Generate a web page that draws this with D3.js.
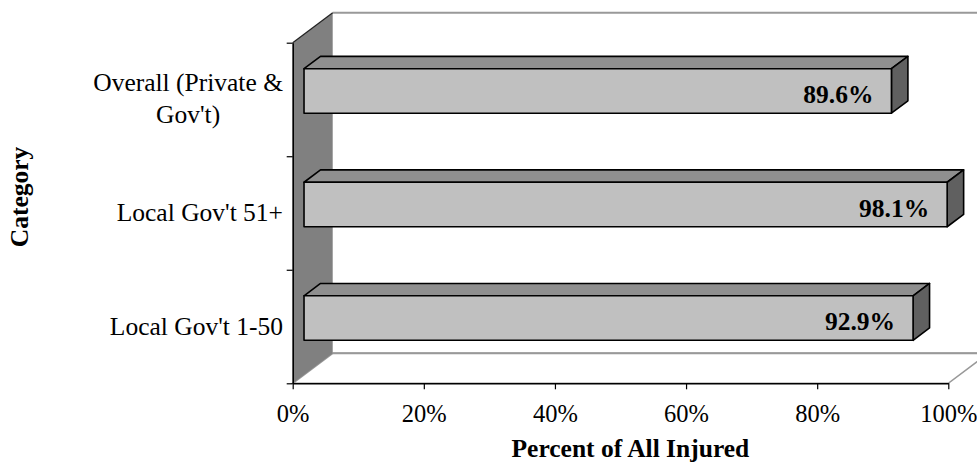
<!DOCTYPE html>
<html>
<head>
<meta charset="utf-8">
<script src="https://cdn.jsdelivr.net/npm/d3@7"></script>
<style>
  html, body { margin: 0; padding: 0; background: #fff; }
  svg { display: block; font-family: "Liberation Serif", "Times New Roman", serif; }
</style>
</head>
<body>
<svg id="chart" width="977" height="462"></svg>
<script>
// Share of all injured workers, by category
const categories = ["Overall (Private & Gov't)", "Local Gov't 51+", "Local Gov't 1-50"];
const categoryLines = [["Overall (Private &", "Gov't)"], ["Local Gov't 51+"], ["Local Gov't 1-50"]];
const values = [0.896, 0.981, 0.929];
const valueLabels = ["89.6%", "98.1%", "92.9%"];
const xTicks = [0, 0.2, 0.4, 0.6, 0.8, 1.0];
const xTitle = "Percent of All Injured";
const yTitle = "Category";

const svg = d3.select("#chart");

// Plot frame (front plane) and oblique depth offset
const plotL = 292.7, plotR = 948.3, plotT = 42.7, plotB = 383.3;
const DX = 40, DY = -30;
// Bars sit between these fractions of the depth
const f0 = 0.283, f1 = 0.695;

const x = d3.scaleLinear().domain([0, 1]).range([plotL, plotR]);
const y = d3.scaleBand().domain(categories).range([plotT, plotB]);
const barH = y.bandwidth() * 0.392;

const wallGray = "#999999";

// Back wall
svg.append("rect")
  .attr("x", plotL + DX).attr("y", plotT + DY)
  .attr("width", plotR - plotL).attr("height", plotB - plotT)
  .attr("fill", "#fff");
svg.append("line")
  .attr("x1", plotL + DX).attr("x2", plotR + DX)
  .attr("y1", plotT + DY).attr("y2", plotT + DY)
  .attr("stroke", wallGray).attr("stroke-width", 2);

// Floor
svg.append("polygon")
  .attr("points", [[plotL, plotB], [plotR, plotB], [plotR + DX, plotB + DY], [plotL + DX, plotB + DY]].join(" "))
  .attr("fill", "#fff").attr("stroke", wallGray).attr("stroke-width", 1.6);
svg.append("line")
  .attr("x1", plotL + DX).attr("x2", plotR + DX)
  .attr("y1", plotB + DY).attr("y2", plotB + DY)
  .attr("stroke", wallGray).attr("stroke-width", 2);

// Side wall
svg.append("polygon")
  .attr("points", [[plotL, plotT], [plotL + DX, plotT + DY], [plotL + DX, plotB + DY], [plotL, plotB]].join(" "))
  .attr("fill", "#808080");
svg.append("line")
  .attr("x1", plotL).attr("y1", plotT).attr("x2", plotL + DX).attr("y2", plotT + DY)
  .attr("stroke", "#222").attr("stroke-width", 1.2);

// Bars
const bars = svg.append("g").selectAll("g").data(categories).join("g");
bars.each(function(c, i) {
  const g = d3.select(this);
  const bx = DX * f0, by = DY * f0;
  const dbx = DX * (f1 - f0), dby = DY * (f1 - f0);
  const x0 = x(0) + bx, x1 = x(values[i]) + bx;
  const yc = y(c) + y.bandwidth() / 2 + by;
  const yt = yc - barH / 2, yb = yc + barH / 2;
  const face = (pts, fill) => g.append("polygon")
    .attr("points", pts.join(" ")).attr("fill", fill)
    .attr("stroke", "#000").attr("stroke-width", 1.6).attr("stroke-linejoin", "round");
  face([[x0, yt], [x0 + dbx, yt + dby], [x1 + dbx, yt + dby], [x1, yt]], "#8f8f8f");
  face([[x1, yt], [x1 + dbx, yt + dby], [x1 + dbx, yb + dby], [x1, yb]], "#606060");
  face([[x0, yt], [x1, yt], [x1, yb], [x0, yb]], "#c0c0c0");
  g.append("text")
    .attr("x", x1 - 18).attr("y", yc + 12)
    .attr("text-anchor", "end")
    .attr("font-size", 25.5).attr("font-weight", "bold")
    .attr("fill", "#000")
    .text(valueLabels[i]);
});

// Value axis
const xAxis = svg.append("g")
  .attr("transform", `translate(0,${plotB})`)
  .call(d3.axisBottom(x).tickValues(xTicks).tickFormat(d3.format(".0%")).tickSizeInner(6).tickSizeOuter(0));
xAxis.select(".domain").attr("stroke", "#000").attr("stroke-width", 1.6);
xAxis.selectAll(".tick line").attr("stroke", "#000").attr("stroke-width", 1.2);
xAxis.selectAll(".tick text")
  .attr("y", 38.4).attr("dy", 0)
  .attr("font-size", 24.5).attr("font-family", "Liberation Serif, Times New Roman, serif")
  .attr("fill", "#000");

// Category axis: ticks at band boundaries
const yEdge = d3.scaleLinear().domain([0, categories.length]).range([plotT, plotB]);
const yAxis = svg.append("g")
  .attr("transform", `translate(${plotL},0)`)
  .call(d3.axisLeft(yEdge).tickValues(d3.range(categories.length + 1)).tickFormat("").tickSizeInner(6).tickSizeOuter(0));
yAxis.select(".domain").attr("stroke", "#000").attr("stroke-width", 1.6);
yAxis.selectAll(".tick line").attr("stroke", "#000").attr("stroke-width", 1.2);

// Category labels (wrapped lines centred on the widest line, block right-aligned)
const labelRight = 283, lineGap = 32;
categories.forEach((c, i) => {
  const lines = categoryLines[i];
  const g = svg.append("g");
  const texts = lines.map((t) => g.append("text").attr("font-size", 25.5).attr("fill", "#000").text(t));
  const maxW = d3.max(texts, (t) => t.node().getComputedTextLength());
  const cy = y(c) + y.bandwidth() / 2;
  const firstBase = cy - (lines.length - 1) * lineGap / 2 + 8;
  texts.forEach((t, j) => {
    t.attr("text-anchor", "middle").attr("x", labelRight - maxW / 2).attr("y", firstBase + j * lineGap);
  });
});

// Axis titles
svg.append("text")
  .attr("x", 630.4).attr("y", 457)
  .attr("text-anchor", "middle")
  .attr("font-size", 25.5).attr("font-weight", "bold")
  .text(xTitle);
svg.append("text")
  .attr("transform", "translate(28,197) rotate(-90)")
  .attr("text-anchor", "middle")
  .attr("font-size", 25.5).attr("font-weight", "bold")
  .text(yTitle);
</script>
</body>
</html>
